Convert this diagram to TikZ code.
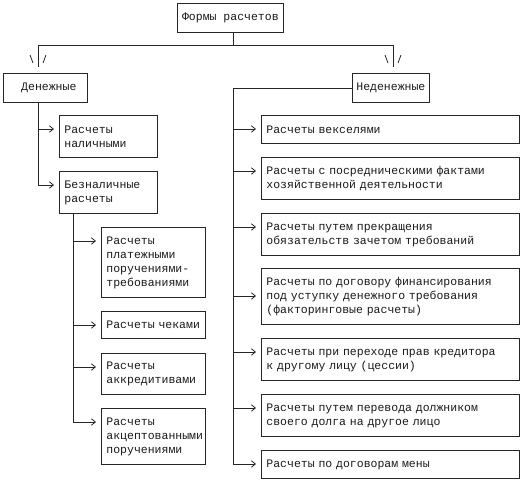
\documentclass[tikz,border=0pt]{standalone}
\usepackage{fontspec}
\newfontfamily\monofnt{Liberation Mono}
\usetikzlibrary{arrows.meta}
\tikzset{
  ln/.style={line width=0.8pt, draw=black!85},
  arr/.style={ln, -{Straight Barb[length=4pt,width=6.5pt]}, shorten >=5pt},
  boxbase/.style={draw=black!85, line width=0.8pt, anchor=north west, inner ysep=0pt,
    font=\monofnt\fontsize{11.5}{14}\selectfont, text=black!90},
  cbox/.style={boxbase, inner xsep=2pt, align=center},
  lbox/.style={boxbase, inner xsep=5pt, align=left},
}
\newcommand{\tipmark}[1]{%
  \draw[ln] ($(#1)+(-8,-12)$) -- ($(#1)+(-5,-4)$);
  \draw[ln] ($(#1)+(5,-4)$) -- ($(#1)+(8,-12)$);}
\usetikzlibrary{calc}
\begin{document}
\begin{tikzpicture}[x=1pt,y=-1pt]
\useasboundingbox (0,0) rectangle (522,483);
% top level
\node[cbox, minimum width=106pt, minimum height=29pt] (root) at (177,3) {Формы расчетов};
\node[cbox, minimum width=84pt, minimum height=29pt] (den) at (3,73) {\ Денежные};
\node[cbox, minimum width=77pt, minimum height=29pt] (nden) at (352,73) {Неденежные};
% left column
\node[lbox, text width=88pt, minimum height=42pt] (nal) at (59,115) {Расчеты\\наличными};
\node[lbox, text width=88pt, minimum height=42pt] (bez) at (59,171) {Безналичные\\расчеты};
\node[lbox, text width=94pt, minimum height=70pt] (plat) at (101,227) {Расчеты\\платежными\\поручениями-\\требованиями};
\node[lbox, text width=94pt, minimum height=27pt] (chek) at (101,311) {Расчеты чеками};
\node[lbox, text width=94pt, minimum height=41pt] (akk) at (101,353) {Расчеты\\аккредитивами};
\node[lbox, text width=94pt, minimum height=56pt] (akc) at (101,408) {Расчеты\\акцептованными\\поручениями};
% right column
\node[lbox, text width=248pt, minimum height=28pt] (r1) at (261,115) {Расчеты векселями};
\node[lbox, text width=248pt, minimum height=42pt] (r2) at (261,157) {Расчеты с посредническими фактами\\хозяйственной деятельности};
\node[lbox, text width=248pt, minimum height=42pt] (r3) at (261,213) {Расчеты путем прекращения\\обязательств зачетом требований};
\node[lbox, text width=248pt, minimum height=56pt] (r4) at (261,268) {Расчеты по договору финансирования\\под уступку денежного требования\\(факторинговые расчеты)};
\node[lbox, text width=248pt, minimum height=42pt] (r5) at (261,338) {Расчеты при переходе прав кредитора\\к другому лицу (цессии)};
\node[lbox, text width=248pt, minimum height=42pt] (r6) at (261,394) {Расчеты путем перевода должником\\своего долга на другое лицо};
\node[lbox, text width=248pt, minimum height=28pt] (r7) at (261,450) {Расчеты по договорам мены};
% entry points
\foreach \n in {nal,bez,plat,chek,akk,akc,r1,r2,r3,r5,r6,r7}
  \coordinate (\n-in) at ([yshift=-14pt]\n.north west);
\coordinate (r4-in) at ([yshift=-28pt]r4.north west);
% top connectors
\coordinate (hub) at (233,45);
\coordinate (tL) at (38,45);
\coordinate (tR) at (393,45);
\coordinate (eL) at ([yshift=6pt]den.north -| tL);
\coordinate (eR) at ([yshift=6pt]nden.north -| tR);
\draw[ln] (root.south -| hub) -- (hub);
\draw[ln] (tL) -- (tR);
\draw[ln] (tL) -- (eL);
\draw[ln] (tR) -- (eR);
\tipmark{eL}
\tipmark{eR}
% left trunk
\draw[arr] (den.south -| tL) |- (bez-in);
\draw[arr] (nal-in -| tL) -- (nal-in);
\coordinate (bL) at ([xshift=14pt]bez.south west);
\draw[arr] (bL) |- (akc-in);
\foreach \n in {plat,chek,akk}
  \draw[arr] (\n-in -| bL) -- (\n-in);
% right trunk
\coordinate (rc) at (nden.west -| hub);
\draw[arr] (nden.west) -- (rc) |- (r7-in);
\foreach \n in {r1,r2,r3,r4,r5,r6}
  \draw[arr] (\n-in -| rc) -- (\n-in);
\end{tikzpicture}
\end{document}
